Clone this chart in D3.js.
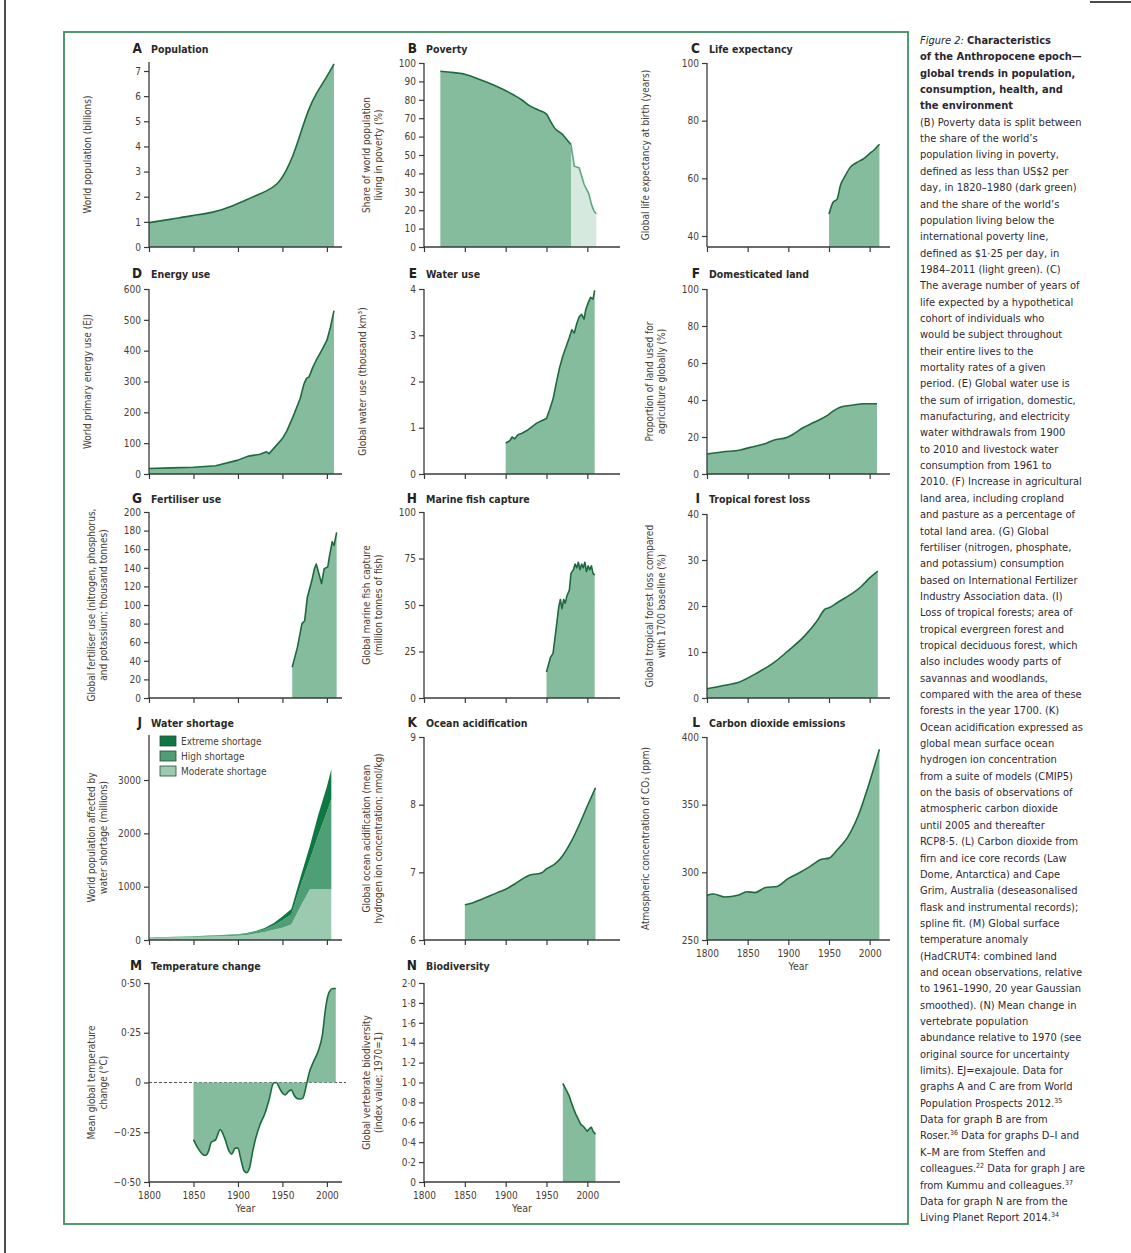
<!DOCTYPE html>
<html>
<head>
<meta charset="utf-8">
<script src="https://cdnjs.cloudflare.com/ajax/libs/d3/7.8.5/d3.min.js"></script>
<style>
body { margin: 0; background: #fff; }
svg text { font-family: "Liberation Sans Narrow", "DejaVu Sans Condensed", sans-serif; }
</style>
</head>
<body>
<svg width="1131" height="1253"></svg>
<script>
// ---- data ----
var tickYears = [1800, 1850, 1900, 1950, 2000];

var popYears = [1800, 1823, 1849, 1872, 1894, 1917, 1932, 1944, 1954, 1962, 1970, 1979, 1988, 1999, 2008];
var popValues = [0.97, 1.09, 1.26, 1.36, 1.62, 2.0, 2.22, 2.45, 3.0, 3.62, 4.47, 5.46, 6.12, 6.71, 7.28];

var povYears = [1820, 1830, 1850, 1870, 1890, 1910, 1920, 1929, 1940, 1950, 1955, 1960, 1970, 1975, 1980];
var povValues = [95.5, 95.1, 93.9, 90.7, 87.1, 82.6, 79.9, 76.8, 74.5, 72.2, 68.2, 64.6, 61, 58.3, 55.7];
var povLineYears = [1980, 1984, 1987, 1990, 1993, 1996, 1999, 2002, 2005, 2008, 2011];
var povLineValues = [55.7, 44, 43.4, 43.1, 38.6, 34.1, 31.4, 28.7, 23.3, 19.7, 18];

var lifeYears = [1950, 1955, 1960, 1964, 1970, 1976, 1984, 1992, 2000, 2006, 2012];
var lifeValues = [47.6, 51.7, 52.8, 57.5, 60.9, 63.8, 65.5, 66.7, 68.6, 70, 71.8];

var energyYears = [1800, 1825, 1850, 1875, 1900, 1912, 1925, 1932, 1935, 1943, 1950, 1955, 1962, 1970, 1974, 1977, 1980, 1984, 1988, 1994, 2000, 2004, 2008];
var energyValues = [18, 20, 22, 27, 45, 58, 64, 72, 66, 92, 115, 140, 186, 245, 290, 310, 315, 345, 369, 400, 433, 476, 530];

var waterYears = [1900, 1905, 1908, 1911, 1915, 1920, 1926, 1932, 1938, 1944, 1950, 1954, 1958, 1962, 1966, 1970, 1974, 1978, 1981, 1984, 1987, 1990, 1993, 1996, 1998, 2001, 2004, 2007, 2009];
var waterValues = [0.67, 0.72, 0.8, 0.76, 0.85, 0.88, 0.94, 1.02, 1.1, 1.15, 1.2, 1.4, 1.62, 1.97, 2.3, 2.55, 2.75, 2.95, 3.12, 3.05, 3.25, 3.4, 3.45, 3.35, 3.55, 3.7, 3.82, 3.78, 3.97];

var landYears = [1800, 1820, 1841, 1853, 1870, 1882, 1898, 1906, 1918, 1931, 1947, 1955, 1963, 1980, 1992, 2009];
var landValues = [10.8, 12, 13, 14.4, 16.2, 18.3, 19.7, 21.5, 25, 27.8, 31.4, 34, 36, 37.3, 38, 38];

var fertYears = [1961, 1967, 1972, 1975, 1978, 1983, 1986, 1988, 1991, 1994, 1997, 2001, 2003, 2006, 2008, 2011];
var fertValues = [33, 55, 80, 83, 108, 126, 139, 144, 134, 123, 139, 141, 153, 168, 164, 178];

var fishYears = [1950, 1955, 1958, 1962, 1965, 1967, 1969, 1971, 1973, 1975, 1978, 1980, 1983, 1985, 1987, 1989, 1991, 1993, 1995, 1997, 1999, 2001, 2003, 2005, 2007, 2009];
var fishValues = [14, 22, 24, 38, 49, 53, 48, 53, 51, 55, 58, 67, 69, 72, 70, 73, 69, 72, 70, 73, 68, 71, 69, 71, 67, 66];

var forestYears = [1800, 1820, 1840, 1860, 1880, 1900, 1920, 1935, 1945, 1950, 1960, 1970, 1980, 1990, 2000, 2010];
var forestValues = [2.0, 2.7, 3.5, 5.3, 7.4, 10.3, 13.5, 16.7, 19.3, 19.6, 20.7, 21.8, 22.9, 24.3, 26.1, 27.6];

var shortYears = [1800, 1850, 1900, 1910, 1920, 1930, 1940, 1950, 1960, 1970, 1981, 1990, 2000, 2005];
var shortModerate = [38, 55, 80, 95, 120, 150, 190, 230, 290, 620, 950, 950, 950, 950];
var shortHigh = [8, 12, 20, 25, 35, 50, 80, 140, 190, 380, 560, 1000, 1450, 1700];
var shortExtreme = [2, 5, 10, 10, 15, 25, 45, 70, 100, 160, 260, 380, 480, 550];
var shortLabels = ["Extreme shortage", "High shortage", "Moderate shortage"];

var acidYears = [1850, 1860, 1870, 1880, 1890, 1900, 1910, 1920, 1930, 1940, 1945, 1950, 1960, 1970, 1980, 1990, 2000, 2010];
var acidValues = [6.52, 6.55, 6.6, 6.65, 6.7, 6.75, 6.82, 6.9, 6.96, 6.98, 7.0, 7.05, 7.12, 7.25, 7.45, 7.7, 7.98, 8.25];

var co2Years = [1800, 1808, 1822, 1838, 1849, 1859, 1872, 1886, 1900, 1913, 1926, 1940, 1950, 1960, 1973, 1986, 2000, 2012];
var co2Values = [283, 284, 281.8, 283, 285.7, 285, 288.8, 289.5, 295.5, 299.5, 304, 309.5, 310.5, 316.5, 326, 342, 367, 391];

var tempYears = [1850, 1855, 1860, 1863, 1867, 1870, 1875, 1880, 1885, 1890, 1893, 1897, 1900, 1903, 1907, 1910, 1913, 1917, 1920, 1925, 1930, 1935, 1940, 1943, 1947, 1950, 1953, 1957, 1960, 1963, 1967, 1970, 1973, 1977, 1980, 1985, 1990, 1995, 1998, 2000, 2003, 2007, 2010];
var tempValues = [-0.287, -0.33, -0.36, -0.367, -0.345, -0.30, -0.287, -0.237, -0.278, -0.345, -0.36, -0.33, -0.33, -0.38, -0.445, -0.453, -0.43, -0.337, -0.28, -0.21, -0.16, -0.087, -0.003, 0.0, -0.03, -0.053, -0.062, -0.045, -0.037, -0.062, -0.082, -0.083, -0.078, -0.012, 0.047, 0.105, 0.155, 0.24, 0.355, 0.413, 0.458, 0.472, 0.472];

var bioYears = [1970, 1972, 1975, 1978, 1980, 1983, 1986, 1989, 1992, 1995, 1998, 2000, 2003, 2005, 2007, 2010];
var bioValues = [0.99, 0.96, 0.91, 0.86, 0.81, 0.74, 0.68, 0.63, 0.58, 0.56, 0.53, 0.51, 0.54, 0.55, 0.51, 0.48];

var caption = [
  "(B) Poverty data is split between", "the share of the world\u2019s", "population living in poverty,",
  "defined as less than US$2 per", "day, in 1820\u20131980 (dark green)", "and the share of the world\u2019s",
  "population living below the", "international poverty line,", "defined as $1\u00b725 per day, in",
  "1984\u20132011 (light green). (C)", "The average number of years of", "life expected by a hypothetical",
  "cohort of individuals who", "would be subject throughout", "their entire lives to the",
  "mortality rates of a given", "period. (E) Global water use is", "the sum of irrigation, domestic,",
  "manufacturing, and electricity", "water withdrawals from 1900", "to 2010 and livestock water",
  "consumption from 1961 to", "2010. (F) Increase in agricultural", "land area, including cropland",
  "and pasture as a percentage of", "total land area. (G) Global", "fertiliser (nitrogen, phosphate,",
  "and potassium) consumption", "based on International Fertilizer", "Industry Association data. (I)",
  "Loss of tropical forests; area of", "tropical evergreen forest and", "tropical deciduous forest, which",
  "also includes woody parts of", "savannas and woodlands,", "compared with the area of these",
  "forests in the year 1700. (K)", "Ocean acidification expressed as", "global mean surface ocean",
  "hydrogen ion concentration", "from a suite of models (CMIP5)", "on the basis of observations of",
  "atmospheric carbon dioxide", "until 2005 and thereafter", "RCP8\u00b75. (L) Carbon dioxide from",
  "firn and ice core records (Law", "Dome, Antarctica) and Cape", "Grim, Australia (deseasonalised",
  "flask and instrumental records);", "spline fit. (M) Global surface", "temperature anomaly",
  "(HadCRUT4: combined land", "and ocean observations, relative", "to 1961\u20131990, 20 year Gaussian",
  "smoothed). (N) Mean change in", "vertebrate population", "abundance relative to 1970 (see",
  "original source for uncertainty", "limits). EJ=exajoule. Data for", "graphs A and C are from World",
  "Population Prospects 2012.|35", "Data for graph B are from", "Roser.|36 Data for graphs D\u2013I and",
  "K\u2013M are from Steffen and", "colleagues.|22 Data for graph J are", "from Kummu and colleagues.|37",
  "Data for graph N are from the", "Living Planet Report 2014.|34"
];
var captionTitle = ["Characteristics", "of the Anthropocene epoch\u2014", "global trends in population,",
  "consumption, health, and", "the environment"];

// ---- drawing ----
var svg = d3.select("svg");
var lineGreen = "#1d6b3d", fillGreen = "#85bc9e", axisCol = "#3a3a3a", textCol = "#4a3d33";

// page edges
svg.append("line").attr("x1", 5).attr("x2", 5).attr("y1", 0).attr("y2", 1253).attr("stroke", "#111").attr("stroke-width", 1.5);
svg.append("line").attr("x1", 1090).attr("x2", 1131).attr("y1", 2).attr("y2", 2).attr("stroke", "#111").attr("stroke-width", 1.5);
svg.append("rect").attr("x", 64).attr("y", 32).attr("width", 844).attr("height", 1192)
  .attr("fill", "none").attr("stroke", "#3d8f5e").attr("stroke-width", 1.8);

var cols = [
  { xr: [149, 342], xd: [1800, 2017] },
  { xr: [424, 620], xd: [1800, 2040] },
  { xr: [707, 890], xd: [1800, 2025] }
];

function midDot(n) {
  return function (d) { return d === 0 ? "0" : d3.format("." + n + "f")(d).replace(".", "\u00b7").replace("-", "\u2013"); };
}

function drawPanel(p) {
  var c = cols[p.col];
  var g = svg.append("g");
  var x = d3.scaleLinear().domain(c.xd).range(c.xr);
  var y = d3.scaleLinear().domain(p.yd).range(p.yr);
  var base = p.zero ? y(0) : p.axisY;

  if (p.zero) {
    g.append("line").attr("x1", c.xr[0]).attr("x2", c.xr[1] + 4).attr("y1", base).attr("y2", base)
      .attr("stroke", "#555").attr("stroke-width", 1.1).attr("stroke-dasharray", "3,2");
  }

  (p.series || []).forEach(function (s) {
    var pts = s.years.map(function (yr, i) { return [yr, s.values[i]]; });
    var curve = s.curve || d3.curveLinear;
    var area = d3.area().x(function (d) { return x(d[0]); }).y0(base).y1(function (d) { return y(d[1]); }).curve(curve);
    var line = d3.line().x(function (d) { return x(d[0]); }).y(function (d) { return y(d[1]); }).curve(curve);
    g.append("path").attr("d", area(pts)).attr("fill", s.fill || fillGreen);
    g.append("path").attr("d", line(pts)).attr("fill", "none")
      .attr("stroke", s.stroke || lineGreen).attr("stroke-width", 1.6).attr("stroke-linejoin", "round");
  });

  if (p.stack) p.stack(g, x, y);

  // axes
  var ya = d3.axisLeft(y).tickValues(p.yTicks).tickSize(5).tickSizeOuter(0).tickFormat(p.fmt || d3.format("d"));
  var yg = g.append("g").attr("transform", "translate(" + c.xr[0] + ",0)").call(ya);
  yg.select(".domain").remove();
  var xa = d3.axisBottom(x).tickValues(tickYears).tickSize(5).tickSizeOuter(0)
    .tickFormat(p.xLabels ? d3.format("d") : "");
  var xg = g.append("g").attr("transform", "translate(0," + p.axisY + ")").call(xa);
  xg.select(".domain").remove();
  [yg, xg].forEach(function (a) {
    a.attr("color", axisCol);
    a.selectAll("line").attr("stroke-width", 1.2);
    a.selectAll("text").attr("font-size", 10).attr("fill", textCol);
  });
  xg.selectAll("text").attr("dy", "0.9em");
  g.append("line").attr("x1", c.xr[0]).attr("x2", c.xr[0]).attr("y1", p.axisY).attr("y2", p.axisTop)
    .attr("stroke", axisCol).attr("stroke-width", 1.3);
  g.append("line").attr("x1", c.xr[0]).attr("x2", c.xr[1]).attr("y1", p.axisY).attr("y2", p.axisY)
    .attr("stroke", axisCol).attr("stroke-width", 1.3);

  if (p.xLabels) {
    g.append("text").attr("x", (c.xr[0] + c.xr[1]) / 2).attr("y", p.axisY + 30)
      .attr("text-anchor", "middle").attr("font-size", 10.5).attr("fill", textCol).text("Year");
  }

  // title
  g.append("text").attr("x", c.xr[0] - 7).attr("y", p.titleY).attr("text-anchor", "end")
    .attr("font-size", 13.5).attr("font-weight", "bold").attr("fill", "#222").text(p.letter);
  g.append("text").attr("x", c.xr[0] + 2).attr("y", p.titleY).attr("font-size", 10.5)
    .attr("font-weight", "bold").attr("fill", "#2a2a2a").text(p.title);

  // y label
  var cy = p.labelY || (p.axisY + p.axisTop) / 2;
  p.ylabel.forEach(function (t, i) {
    var lx = c.xr[0] - (p.ylabel.length === 2 ? 54 - i * 12 : 58);
    g.append("text").attr("transform", "translate(" + lx + "," + cy + ") rotate(-90)")
      .attr("text-anchor", "middle").attr("font-size", 10).attr("fill", textCol).text(t);
  });
  return { x: x, y: y };
}

var smooth = d3.curveMonotoneX;

drawPanel({ col: 0, letter: "A", title: "Population", titleY: 53, yd: [0, 7], yr: [247, 71], axisY: 247, axisTop: 62,
  yTicks: d3.range(0, 8), ylabel: ["World population (billions)"],
  series: [{ years: popYears, values: popValues, curve: d3.curveBasis }] });

drawPanel({ col: 1, letter: "B", title: "Poverty", titleY: 53, yd: [0, 100], yr: [247, 63], axisY: 247, axisTop: 63,
  yTicks: d3.range(0, 101, 10), ylabel: ["Share of world population", "living in poverty (%)"],
  series: [
    { years: povLineYears, values: povLineValues, fill: "#d6e9de", stroke: "#5fa77f" },
    { years: povYears, values: povValues, curve: smooth }
  ] });

drawPanel({ col: 2, letter: "C", title: "Life expectancy", titleY: 53, yd: [40, 100], yr: [236, 63], axisY: 247, axisTop: 63,
  yTicks: [40, 60, 80, 100], ylabel: ["Global life expectancy at birth (years)"],
  series: [{ years: lifeYears, values: lifeValues, curve: smooth }] });

drawPanel({ col: 0, letter: "D", title: "Energy use", titleY: 278, yd: [0, 600], yr: [474, 289], axisY: 474, axisTop: 289,
  yTicks: d3.range(0, 601, 100), ylabel: ["World primary energy use (EJ)"],
  series: [{ years: energyYears, values: energyValues }] });

drawPanel({ col: 1, letter: "E", title: "Water use", titleY: 278, yd: [0, 4], yr: [474, 289], axisY: 474, axisTop: 289,
  yTicks: [0, 1, 2, 3, 4], ylabel: ["Global water use (thousand km\u00b3)"],
  series: [{ years: waterYears, values: waterValues }] });

drawPanel({ col: 2, letter: "F", title: "Domesticated land", titleY: 278, yd: [0, 100], yr: [474, 289], axisY: 474, axisTop: 289,
  yTicks: d3.range(0, 101, 20), ylabel: ["Proportion of land used for", "agriculture globally (%)"],
  series: [{ years: landYears, values: landValues, curve: smooth }] });

drawPanel({ col: 0, letter: "G", title: "Fertiliser use", titleY: 503, yd: [0, 200], yr: [698, 512], axisY: 698, axisTop: 512,
  yTicks: d3.range(0, 201, 20), ylabel: ["Global fertiliser use (nitrogen, phosphorus,", "and potassium; thousand tonnes)"],
  series: [{ years: fertYears, values: fertValues }] });

drawPanel({ col: 1, letter: "H", title: "Marine fish capture", titleY: 503, yd: [0, 100], yr: [698, 512], axisY: 698, axisTop: 512,
  yTicks: [0, 25, 50, 75, 100], ylabel: ["Global marine fish capture", "(million tonnes of fish)"],
  series: [{ years: fishYears, values: fishValues }] });

drawPanel({ col: 2, letter: "I", title: "Tropical forest loss", titleY: 503, yd: [0, 40], yr: [698, 514], axisY: 698, axisTop: 514,
  yTicks: [0, 10, 20, 30, 40], ylabel: ["Global tropical forest loss compared", "with 1700 baseline (%)"],
  series: [{ years: forestYears, values: forestValues, curve: smooth }] });

var shortColors = ["#0e7843", "#4f9f76", "#9ccab1"];
drawPanel({ col: 0, letter: "J", title: "Water shortage", titleY: 727, yd: [0, 3000], yr: [940, 780], axisY: 940, axisTop: 735,
  yTicks: [0, 1000, 2000, 3000], ylabel: ["World population affected by", "water shortage (millions)"],
  stack: function (g, x, y) {
    var rows = shortYears.map(function (yr, i) {
      return { year: yr, moderate: shortModerate[i], high: shortHigh[i], extreme: shortExtreme[i] };
    });
    var layers = d3.stack().keys(["moderate", "high", "extreme"])(rows);
    var area = d3.area().x(function (d) { return x(d.data.year); })
      .y0(function (d) { return y(d[0]); }).y1(function (d) { return y(d[1]); });
    g.selectAll("path.layer").data(layers).enter().append("path").attr("class", "layer")
      .attr("d", area).attr("fill", function (d, i) { return shortColors[2 - i]; });
    shortLabels.forEach(function (t, i) {
      g.append("rect").attr("x", 160).attr("y", 736 + i * 15).attr("width", 16).attr("height", 10)
        .attr("fill", shortColors[i]).attr("stroke", "#2d4a3a").attr("stroke-width", 0.8);
      g.append("text").attr("x", 181).attr("y", 745 + i * 15).attr("font-size", 10).attr("fill", textCol).text(t);
    });
  } });

drawPanel({ col: 1, letter: "K", title: "Ocean acidification", titleY: 727, yd: [6, 9], yr: [940, 737], axisY: 940, axisTop: 737,
  yTicks: [6, 7, 8, 9], ylabel: ["Global ocean acidification (mean", "hydrogen ion concentration; nmol/kg)"],
  series: [{ years: acidYears, values: acidValues, curve: smooth }] });

drawPanel({ col: 2, letter: "L", title: "Carbon dioxide emissions", titleY: 727, yd: [250, 400], yr: [940, 737], axisY: 940, axisTop: 737,
  yTicks: [250, 300, 350, 400], ylabel: ["Atmospheric concentration of CO\u2082 (ppm)"], xLabels: true,
  series: [{ years: co2Years, values: co2Values, curve: smooth }] });

drawPanel({ col: 0, letter: "M", title: "Temperature change", titleY: 970, yd: [-0.5, 0.5], yr: [1182, 983], axisY: 1182, axisTop: 983,
  yTicks: [-0.5, -0.25, 0, 0.25, 0.5], fmt: midDot(2), ylabel: ["Mean global temperature", "change (\u00b0C)"], xLabels: true, zero: true,
  series: [{ years: tempYears, values: tempValues, curve: smooth }] });

drawPanel({ col: 1, letter: "N", title: "Biodiversity", titleY: 970, yd: [0, 2], yr: [1182, 983], axisY: 1182, axisTop: 983,
  yTicks: d3.range(0, 2.01, 0.2).map(function (v) { return Math.round(v * 10) / 10; }), fmt: midDot(1),
  ylabel: ["Global vertebrate biodiversity", "(index value; 1970=1)"], xLabels: true,
  series: [{ years: bioYears, values: bioValues }] });

// caption
var cap = svg.append("g").attr("transform", "translate(920,0)");
var lh = 16.35, capSize = 11;
var t0 = cap.append("text").attr("x", 0).attr("y", 44).attr("font-size", capSize).attr("font-weight", "bold").attr("fill", "#2a2630");
t0.append("tspan").attr("font-style", "italic").attr("font-weight", "normal").text("Figure 2: ");
t0.append("tspan").text(captionTitle[0]);
captionTitle.slice(1).forEach(function (t, i) {
  cap.append("text").attr("x", 0).attr("y", 44 + (i + 1) * lh).attr("font-size", capSize)
    .attr("font-weight", "bold").attr("fill", "#2a2630").text(t);
});
caption.forEach(function (t, i) {
  var parts = t.split("|");
  var tx = cap.append("text").attr("x", 0).attr("y", 44 + (i + 5) * lh).attr("font-size", capSize).attr("fill", "#2f2a33");
  tx.append("tspan").text(parts[0]);
  if (parts.length > 1) {
    var rest = parts[1].split(" ");
    tx.append("tspan").attr("font-size", 7).attr("baseline-shift", "super").text(rest[0]);
    if (rest.length > 1) tx.append("tspan").text(" " + rest.slice(1).join(" "));
  }
});
</script>
</body>
</html>
